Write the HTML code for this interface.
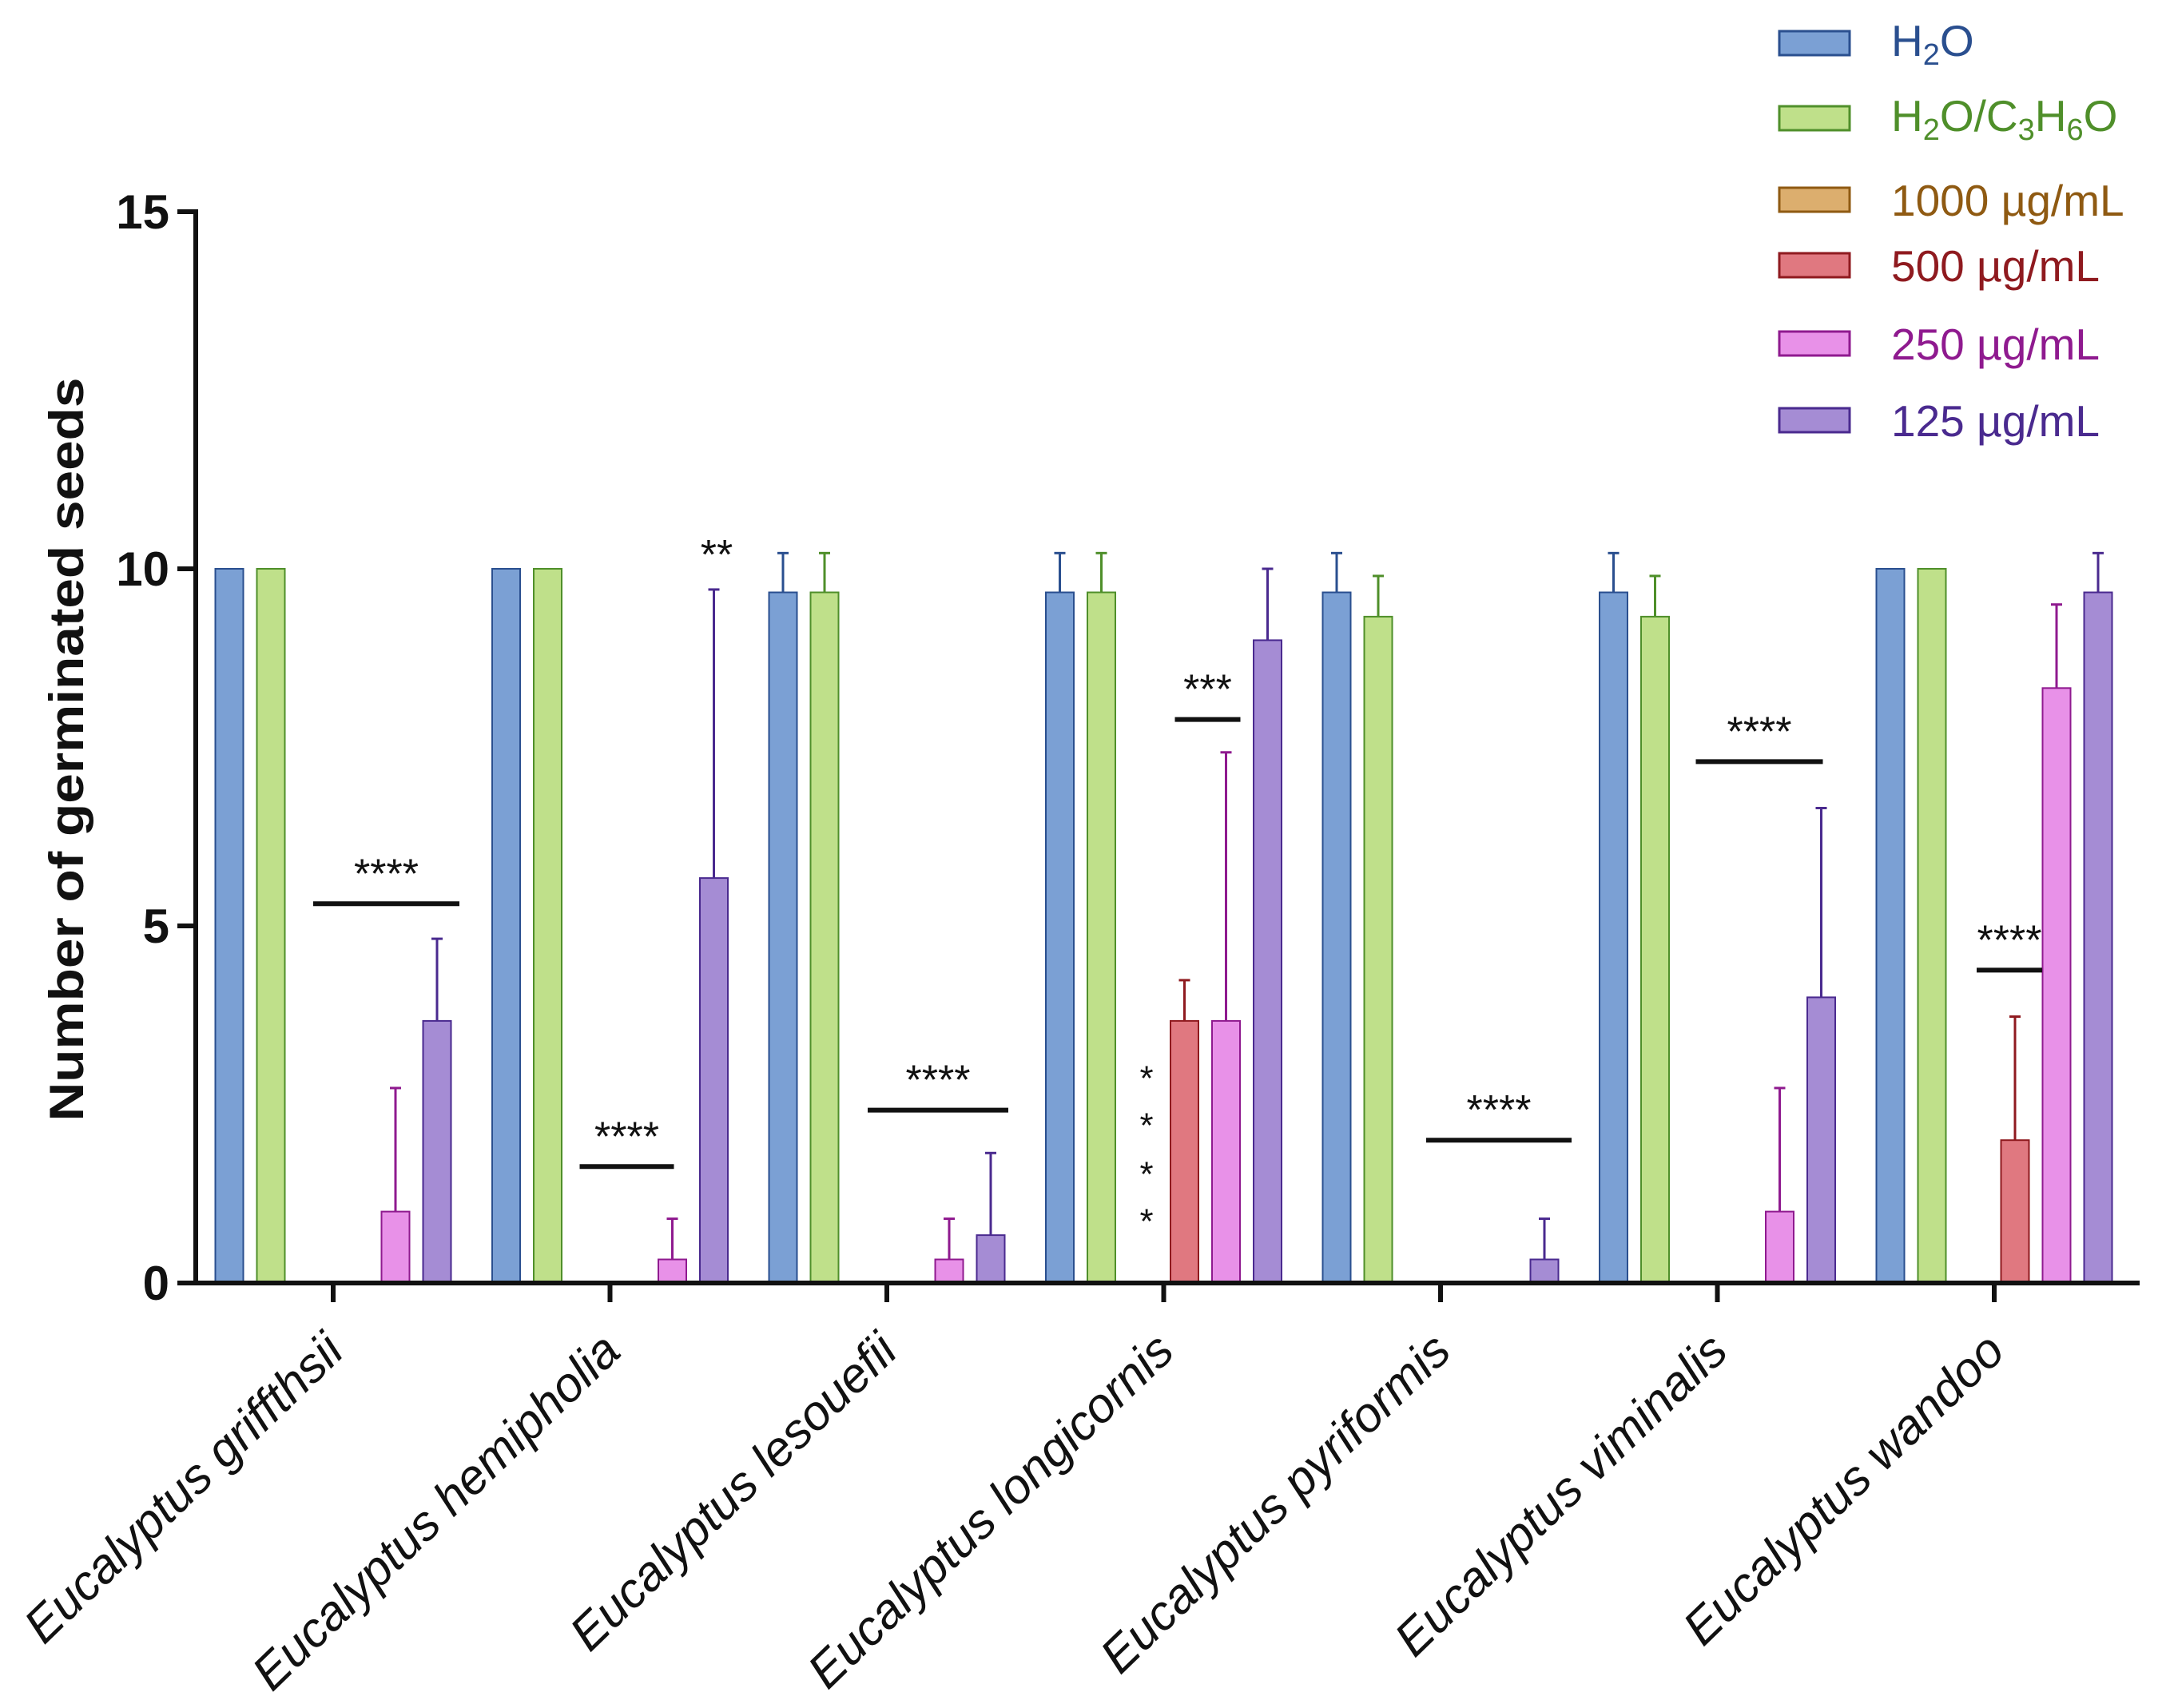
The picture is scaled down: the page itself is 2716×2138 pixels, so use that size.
<!DOCTYPE html>
<html><head><meta charset="utf-8"><style>
html,body{margin:0;padding:0;background:#fff;width:2716px;height:2138px;overflow:hidden}
svg text{font-family:"Liberation Sans",Arial,sans-serif}
</style></head><body>
<svg id="chart" width="2716" height="2138" viewBox="0 0 2716 2138" xmlns="http://www.w3.org/2000/svg">
<g id="plot"></g>
</svg>
<script>
const categories = ["Eucalyptus griffthsii","Eucalyptus hemipholia","Eucalyptus lesouefii","Eucalyptus longicornis","Eucalyptus pyriformis","Eucalyptus viminalis","Eucalyptus wandoo"];
const seriesNames = ["H2O","H2O/C3H6O","1000 µg/mL","500 µg/mL","250 µg/mL","125 µg/mL"];
const h2o      = [10, 10, 9.67, 9.67, 9.67, 9.67, 10];
const h2oAcet  = [10, 10, 9.67, 9.67, 9.33, 9.33, 10];
const c1000    = [0, 0, 0, 0, 0, 0, 0];
const c500     = [0, 0, 0, 3.67, 0, 0, 2];
const c250     = [1, 0.33, 0.33, 3.67, 0, 1, 8.33];
const c125     = [3.67, 5.67, 0.67, 9, 0.33, 4, 9.67];
const errH2o     = [0, 0, 0.55, 0.55, 0.55, 0.55, 0];
const errH2oAcet = [0, 0, 0.55, 0.55, 0.57, 0.57, 0];
const err1000    = [0, 0, 0, 0, 0, 0, 0];
const err500     = [0, 0, 0, 0.57, 0, 0, 1.73];
const err250     = [1.73, 0.57, 0.57, 3.76, 0, 1.73, 1.17];
const err125     = [1.15, 4.04, 1.15, 1, 0.57, 2.65, 0.55];
const yTicks = [0, 5, 10, 15];
const sigLabels = ["****","****","****","***","****","****","****"];
const sigLevels = [5.31, 1.63, 2.42, 7.89, 2.0, 7.3, 4.38];

const NS="http://www.w3.org/2000/svg";
const svg=document.getElementById('chart');
const plot=document.getElementById('plot');
const fills=["#7ba0d4","#bfe08a","#dcae6e","#e07880","#e891e8","#a58cd4"];
const strokes=["#2a4f8f","#4f8f2a","#8f5a12","#8f1a1f","#8f1a8f","#4a2a8f"];
const values=[h2o,h2oAcet,c1000,c500,c250,c125];
const errs=[errH2o,errH2oAcet,err1000,err500,err250,err125];
// significance line extents relative to group center (style, px)
const sigL=[-25,-38,-24,14,-18,-27,-22];
const sigR=[158,80,152,96,164,132,60];
const y0=1606, yTop=265, vmax=15;
function yS(v){return y0-(v/vmax)*(y0-yTop);}
const x0=417, step=346.5, barStride=52, barW=35;
function xC(i){return x0+i*step;}
function xBar(i,s){return xC(i)+(s-2.5)*barStride;}
function mk(tag,attrs,parent){const e=document.createElementNS(NS,tag);for(const k in attrs)e.setAttribute(k,attrs[k]);(parent||plot).appendChild(e);return e;}

for(let s=0;s<6;s++){
  for(let i=0;i<categories.length;i++){
    const v=values[s][i];
    if(v<=0) continue;
    const cx=xBar(i,s);
    const r=mk('rect',{x:cx-barW/2,y:yS(v),width:barW,height:y0-yS(v),fill:fills[s],stroke:strokes[s],'stroke-width':2});
    
    
    const e=errs[s][i];
    if(e>0){
      const g=mk('g',{stroke:strokes[s],'stroke-width':3});
      
      
      mk('line',{x1:cx,x2:cx,y1:yS(v),y2:yS(v+e)},g);
      mk('line',{x1:cx-7,x2:cx+7,y1:yS(v+e),y2:yS(v+e)},g);
    }
  }
}
for(let i=0;i<categories.length;i++){
  const x1=xC(i)+sigL[i], x2=xC(i)+sigR[i];
  const l=mk('line',{x1:x1,x2:x2,y1:yS(sigLevels[i]),y2:yS(sigLevels[i]),stroke:'#111','stroke-width':6});
  
  
  const t=mk('text',{x:(x1+x2)/2,y:yS(sigLevels[i])-20,'text-anchor':'middle','font-size':52,fill:'#111'});
  t.textContent=sigLabels[i];
  
  
}
{
  const t=mk('text',{x:897,y:yS(10.0),'text-anchor':'middle','font-size':52,fill:'#111'});
  t.textContent='**';
  
  
  const vs=[2.97,2.31,1.63,0.97];
  for(const v of vs){
    const s=mk('text',{x:1435,y:yS(v)+24,'text-anchor':'middle','font-size':44,fill:'#111'});
    s.textContent='*';
    
    
  }
}
const ax=mk('g',{stroke:'#111','stroke-width':6});


mk('line',{x1:245,x2:245,y1:yTop-3,y2:y0+3},ax);
mk('line',{x1:242,x2:2678,y1:y0,y2:y0},ax);
for(const v of yTicks){
  mk('line',{x1:222,x2:245,y1:yS(v),y2:yS(v)},ax);
  const t=mk('text',{x:212,y:yS(v)+21,'text-anchor':'end','font-size':60,'font-weight':'bold',fill:'#111',stroke:'none'});
  t.textContent=v;
  
  
}
for(let i=0;i<categories.length;i++){
  mk('line',{x1:xC(i),x2:xC(i),y1:y0,y2:y0+24},ax);
  const t=mk('text',{x:0,y:0,'text-anchor':'end','font-size':61,'font-style':'italic',fill:'#111',stroke:'none',transform:`translate(${xC(i)+16},${1695}) rotate(-44)`});
  t.textContent=categories[i];
  
  
}
{
  const t=mk('text',{x:0,y:0,'text-anchor':'middle','font-size':60,'font-weight':'bold',fill:'#111',transform:'translate(104,938) rotate(-90)',textLength:931,lengthAdjust:'spacingAndGlyphs'});
  t.textContent='Number of germinated seeds';
  
  
}
const legY=[54,148,250,332,430,526];
const legTexts=[['H','2','O'],['H','2','O/C','3','H','6','O'],['1000 µg/mL'],['500 µg/mL'],['250 µg/mL'],['125 µg/mL']];
for(let s=0;s<6;s++){
  const g=mk('g',{});
  
  
  mk('rect',{x:2227,y:legY[s]-15,width:88,height:30,fill:fills[s],stroke:strokes[s],'stroke-width':3},g);
  const t=mk('text',{x:2367,y:legY[s]+(s<2?16:20),'font-size':55,fill:strokes[s]},g);
  legTexts[s].forEach(p=>{
    const sp=document.createElementNS(NS,'tspan');
    sp.textContent=p;
    if(/^\d$/.test(p) && s<2){sp.setAttribute('baseline-shift','-30%');sp.setAttribute('font-size','38');}
    t.appendChild(sp);
  });
}
</script>
</body></html>
